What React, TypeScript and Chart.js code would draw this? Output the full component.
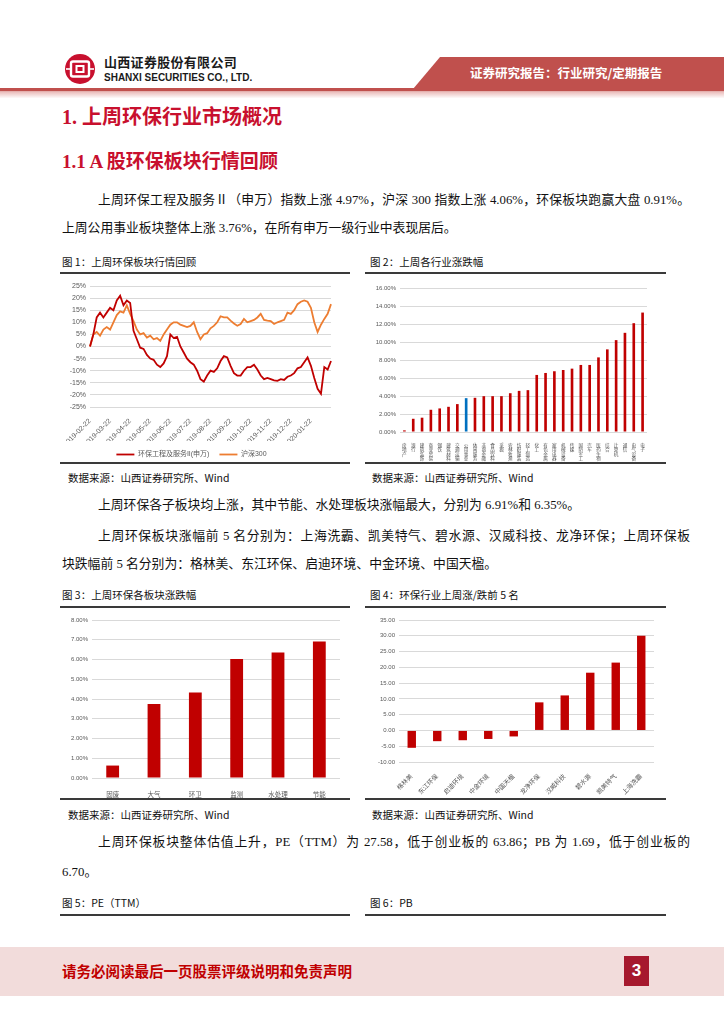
import React, { useEffect, useRef } from 'react';
import { Chart, registerables } from 'chart.js';

Chart.register(...registerables);
Chart.defaults.font.family = '"Liberation Sans", "Noto Sans CJK SC", sans-serif';

// ---------------- Figure 1: 上周环保板块行情回顾 ----------------
const fig1MonthTicks = [
  '2019-02-22', '2019-03-22', '2019-04-22', '2019-05-22', '2019-06-22', '2019-07-22',
  '2019-08-22', '2019-09-22', '2019-10-22', '2019-11-22', '2019-12-22', '2020-01-22',
];
const fig1PointsPerMonth = 6;
const fig1SeriesNames = ['环保工程及服务II(申万)', '沪深300'];
const fig1Env = [
  0, 5, 12, 14, 12, 14, 16, 15, 19, 21,
  17, 19, 18, 6.5, 3, -0.5, -1, -3.5, -5, -5.5,
  -7.5, -8.5, -7, -4, 5, 3.5, 4, 0, -2.5, -5,
  -6.5, -7.5, -10, -13.5, -14.5, -12, -10, -10.5, -9, -6,
  -4, -4.5, -8, -11, -12, -12, -10, -8.5, -8.5, -7.5,
  -9.5, -12, -13.5, -13, -13.5, -14, -14.2, -13.5, -13.8, -12.5,
  -12, -11, -9, -8.5, -6.5, -4.5, -8, -13, -17.5, -19.5,
  -8.5, -9.5, -6,
];
const fig1Hs300 = [
  0, 5, 6, 4.5, 7, 8, 7, 10, 13, 14.5,
  14, 17, 13.5, 10.5, 7, 5, 5.5, 3.7, 4.5, 3,
  3.5, 2.3, 5, 7, 9, 10, 10, 9, 8.5, 8,
  8.5, 10, 6, 3, 5, 5.5, 7.5, 8.5, 10, 12.5,
  12, 12, 10.7, 9.5, 8.6, 9.3, 11.4, 10, 10.5, 11,
  12, 13.5, 11, 10.7, 10.5, 9.3, 10, 10.5, 11, 14,
  13.5, 15, 17.5, 18.5, 19, 18.5, 16, 10, 6, 9,
  11.4, 13.5, 17.5,
];
const fig1YMin = -25;
const fig1YMax = 25;
const fig1YStep = 5;

// ---------------- Figure 2: 上周各行业涨跌幅 ----------------
const fig2Industries = [
  '房地产', '银行', '建筑装饰', '商业贸易', '钢铁', '建筑材料', '交通运输', '公用事业',
  '休闲服务', '非银金融', '食品饮料', '采掘', '农林牧渔', '纺织服装', '轻工制造', '化工',
  '有色金属', '家用电器', '机械设备', '传媒', '国防军工', '汽车', '医药生物', '综合',
  '计算机', '通信', '电气设备', '电子',
];
const fig2Changes = [
  0.18, 1.47, 1.59, 2.47, 2.62, 2.8, 3.1, 3.76,
  3.8, 3.98, 3.98, 3.98, 4.31, 4.57, 4.65, 6.34,
  6.56, 6.75, 6.89, 7.04, 7.45, 7.45, 8.29, 9.18,
  10.21, 11.02, 12.09, 13.27,
];
const fig2Highlight = '公用事业';

// ---------------- Figure 3: 上周环保各板块涨跌幅 ----------------
const fig3Sectors = ['固废', '大气', '环卫', '监测', '水处理', '节能'];
const fig3Changes = [0.63, 3.75, 4.33, 6.02, 6.35, 6.91];

// ---------------- Figure 4: 环保行业上周涨/跌前5名 ----------------
const fig4Stocks = ['格林美', '东江环保', '启迪环境', '中金环境', '中国天楹', '龙净环保', '汉威科技', '碧水源', '凯美特气', '上海洗霸'];
const fig4Changes = [-5.5, -3.4, -3.1, -2.7, -1.9, 8.9, 11.1, 18.3, 21.5, 30.0];

// ---------------- styles ----------------
const RED = '#C00000';
const ORANGE = '#ED7D31';
const BLUE = '#0070C0';
const GRID = '#D9D9D9';
const TICK = '#595959';
const serifCN = '"Liberation Serif", "Noto Sans CJK SC", serif';
const sansCN = '"Noto Sans CJK SC", "Liberation Sans", sans-serif';

function ChartCanvas(props: { left: number; top: number; width: number; height: number; make: () => any }) {
  const ref = useRef<HTMLCanvasElement>(null);
  useEffect(() => {
    const chart = new Chart(ref.current as HTMLCanvasElement, props.make());
    return () => chart.destroy();
  }, []);
  return (
    <canvas
      ref={ref}
      width={props.width}
      height={props.height}
      style={{ position: 'absolute', left: props.left, top: props.top, width: props.width, height: props.height }}
    />
  );
}

const fig1Labels: string[] = [];
fig1MonthTicks.forEach((m) => {
  fig1Labels.push(m);
  for (let i = 1; i < fig1PointsPerMonth; i++) fig1Labels.push('');
});
fig1Labels.push('');

const makeFig1 = () => ({
  type: 'line',
  data: {
    labels: fig1Labels,
    datasets: [
      { label: fig1SeriesNames[0], data: fig1Env, borderColor: RED, backgroundColor: RED, borderWidth: 1.8, pointRadius: 0, tension: 0 },
      { label: fig1SeriesNames[1], data: fig1Hs300, borderColor: ORANGE, backgroundColor: ORANGE, borderWidth: 1.8, pointRadius: 0, tension: 0 },
    ],
  },
  options: {
    responsive: false,
    animation: false,
    events: [],
    layout: { padding: { left: 0, right: 21, top: 10, bottom: 0 } },
    plugins: {
      tooltip: { enabled: false },
      legend: {
        position: 'bottom',
        labels: { usePointStyle: true, pointStyle: 'line', pointStyleWidth: 18, font: { size: 7 }, color: TICK, padding: 10 },
      },
    },
    scales: {
      x: {
        grid: { display: false },
        border: { display: false },
        ticks: { autoSkip: false, minRotation: 45, maxRotation: 45, font: { size: 7 }, color: TICK, padding: 2 },
        afterFit: (s: any) => { s.height = 34; },
      },
      y: {
        min: fig1YMin,
        max: fig1YMax,
        ticks: { stepSize: fig1YStep, callback: (v: any) => v + '%', font: { size: 7 }, color: TICK, padding: 4 },
        grid: { color: GRID, drawTicks: false },
        border: { display: false },
        afterFit: (s: any) => { s.width = 38; },
      },
    },
  },
});

const makeFig2 = () => ({
  type: 'bar',
  data: {
    labels: fig2Industries.map((s) => s.split('')),
    datasets: [
      {
        data: fig2Changes,
        backgroundColor: fig2Industries.map((n) => (n === fig2Highlight ? BLUE : RED)),
        barPercentage: 0.3,
        categoryPercentage: 1,
      },
    ],
  },
  options: {
    responsive: false,
    animation: false,
    events: [],
    layout: { padding: { left: 0, right: 18, top: 12, bottom: 0 } },
    plugins: { legend: { display: false }, tooltip: { enabled: false } },
    scales: {
      x: {
        grid: { display: false },
        border: { display: false },
        ticks: { autoSkip: false, minRotation: 0, maxRotation: 0, font: { size: 4.6, lineHeight: 1 }, color: TICK, padding: 3 },
        afterFit: (s: any) => { s.height = 30; },
      },
      y: {
        min: 0,
        max: 16,
        ticks: { stepSize: 2, callback: (v: any) => Number(v).toFixed(2) + '%', font: { size: 6 }, color: TICK, padding: 4 },
        grid: { color: GRID, drawTicks: false },
        border: { display: false },
        afterFit: (s: any) => { s.width = 35; },
      },
    },
  },
});

const makeFig3 = () => ({
  type: 'bar',
  data: {
    labels: fig3Sectors,
    datasets: [{ data: fig3Changes, backgroundColor: RED, barPercentage: 0.31, categoryPercentage: 1 }],
  },
  options: {
    responsive: false,
    animation: false,
    events: [],
    layout: { padding: { left: 0, right: 12, top: 8, bottom: 0 } },
    plugins: { legend: { display: false }, tooltip: { enabled: false } },
    scales: {
      x: {
        grid: { display: false },
        border: { display: false },
        ticks: { autoSkip: false, maxRotation: 0, font: { size: 6.5 }, color: TICK, padding: 5 },
        afterFit: (s: any) => { s.height = 20; },
      },
      y: {
        min: 0,
        max: 8,
        ticks: { stepSize: 1, callback: (v: any) => Number(v).toFixed(2) + '%', font: { size: 6 }, color: TICK, padding: 4 },
        grid: { color: GRID, drawTicks: false },
        border: { display: false },
        afterFit: (s: any) => { s.width = 32; },
      },
    },
  },
});

const makeFig4 = () => ({
  type: 'bar',
  data: {
    labels: fig4Stocks,
    datasets: [{ data: fig4Changes, backgroundColor: RED, barPercentage: 0.33, categoryPercentage: 1 }],
  },
  options: {
    responsive: false,
    animation: false,
    events: [],
    layout: { padding: { left: 0, right: 11, top: 8, bottom: 0 } },
    plugins: { legend: { display: false }, tooltip: { enabled: false } },
    scales: {
      x: {
        grid: { display: false },
        border: { display: false },
        ticks: { autoSkip: false, minRotation: 45, maxRotation: 45, font: { size: 6.3 }, color: TICK, padding: 3 },
        afterFit: (s: any) => { s.height = 36; },
      },
      y: {
        min: -10,
        max: 35,
        ticks: { stepSize: 5, callback: (v: any) => Number(v).toFixed(2), font: { size: 6 }, color: TICK, padding: 4 },
        grid: { color: GRID, drawTicks: false },
        border: { display: false },
        afterFit: (s: any) => { s.width = 34; },
      },
    },
  },
});

function T(p: {
  x: number; y: number; size: number; children: any; color?: string; weight?: number;
  family?: string; width?: number; justify?: boolean; spacing?: number;
}) {
  return (
    <div
      style={{
        position: 'absolute',
        left: p.x,
        top: p.y - p.size * 0.7,
        fontSize: p.size,
        lineHeight: `${p.size * 1.4}px`,
        color: p.color || '#111',
        fontWeight: p.weight || 400,
        fontFamily: p.family || serifCN,
        width: p.width,
        whiteSpace: p.justify ? 'normal' : 'nowrap',
        textAlign: p.justify ? 'justify' : 'left',
        textAlignLast: p.justify ? 'justify' : undefined,
        letterSpacing: p.spacing,
      } as any}
    >
      {p.children}
    </div>
  );
}

function Rule(p: { x1: number; x2: number; y: number }) {
  return <div style={{ position: 'absolute', left: p.x1, top: p.y - 0.75, width: p.x2 - p.x1, height: 1.5, background: '#3a3a3a' }} />;
}

const HEAD = '#C8102E';

export default function App() {
  useEffect(() => {
    document.body.style.margin = '0';
  }, []);
  const body = 12.8;
  const cap = 10.5;
  return (
    <div style={{ position: 'absolute', left: 0, top: 0, width: 724, height: 1024, background: '#fff', overflow: 'hidden' }}>
      {/* header */}
      <svg width={724} height={100} style={{ position: 'absolute', left: 0, top: 0 }}>
        <defs>
          <linearGradient id="hg" x1="0" y1="0" x2="0" y2="1">
            <stop offset="0" stopColor="#E9B9B7" />
            <stop offset="1" stopColor="#FFFFFF" />
          </linearGradient>
        </defs>
        <polygon points="440,57 724,57 724,89 413,89" fill="#C0504D" />
        <rect x={0} y={88} width={724} height={3.5} fill="#C0504D" />
        <rect x={0} y={91.5} width={724} height={7} fill="url(#hg)" />
        <circle cx={80} cy={69} r={15} fill="#C8102E" />
        <rect x={71} y={61.5} width={18} height={15} rx={2} fill="none" stroke="#fff" strokeWidth={2.4} />
        <rect x={76.5} y={66} width={7} height={6} fill="none" stroke="#fff" strokeWidth={2} />
        <rect x={66} y={68.2} width={5} height={1.6} fill="#fff" />
        <rect x={89} y={68.2} width={5} height={1.6} fill="#fff" />
      </svg>
      <T x={104} y={62} size={13} weight={700} family={sansCN} color="#1a1a1a" spacing={0.3}>山西证券股份有限公司</T>
      <T x={104} y={78} size={10} weight={700} family={'"Liberation Sans Narrow", "Liberation Sans", sans-serif'} color="#1a1a1a">SHANXI SECURITIES CO., LTD.</T>
      <T x={470} y={73} size={12.5} weight={700} family={sansCN} color="#fff">证券研究报告：行业研究/定期报告</T>

      {/* headings */}
      <T x={62} y={117} size={20} weight={700} color={HEAD}>1. 上周环保行业市场概况</T>
      <T x={62} y={162} size={19} weight={700} color={HEAD}>1.1 A 股环保板块行情回顾</T>

      {/* paragraph 1 */}
      <T x={98} y={201} size={body} width={592} justify>上周环保工程及服务Ⅱ（申万）指数上涨 4.97%，沪深 300 指数上涨 4.06%，环保板块跑赢大盘 0.91%。</T>
      <T x={62} y={229} size={body}>上周公用事业板块整体上涨 3.76%，在所有申万一级行业中表现居后。</T>

      {/* figure 1 / 2 */}
      <T x={62} y={262} size={cap} family={sansCN}>图 1：上周环保板块行情回顾</T>
      <T x={370} y={262} size={cap} family={sansCN}>图 2：上周各行业涨跌幅</T>
      <Rule x1={60} x2={350} y={273} />
      <Rule x1={365} x2={666} y={273} />
      <ChartCanvas left={52} top={276} width={300} height={192} make={makeFig1} />
      <ChartCanvas left={365} top={276} width={300} height={186} make={makeFig2} />
      <Rule x1={60} x2={350} y={463} />
      <Rule x1={365} x2={666} y={463} />
      <T x={68} y={478} size={cap} family={sansCN}>数据来源：山西证券研究所、Wind</T>
      <T x={372} y={478} size={cap} family={sansCN}>数据来源：山西证券研究所、Wind</T>

      {/* paragraphs 2,3 */}
      <T x={98} y={506} size={body}>上周环保各子板块均上涨，其中节能、水处理板块涨幅最大，分别为 6.91%和 6.35%。</T>
      <T x={98} y={537} size={body} width={592} justify>上周环保板块涨幅前 5 名分别为：上海洗霸、凯美特气、碧水源、汉威科技、龙净环保；上周环保板</T>
      <T x={62} y={565} size={body}>块跌幅前 5 名分别为：格林美、东江环保、启迪环境、中金环境、中国天楹。</T>

      {/* figure 3 / 4 */}
      <T x={62} y={595} size={cap} family={sansCN}>图 3：上周环保各板块涨跌幅</T>
      <T x={370} y={595} size={cap} family={sansCN}>图 4：环保行业上周涨/跌前 5 名</T>
      <Rule x1={60} x2={350} y={607} />
      <Rule x1={365} x2={666} y={607} />
      <ChartCanvas left={60} top={612} width={292} height={186} make={makeFig3} />
      <ChartCanvas left={365} top={612} width={300} height={186} make={makeFig4} />
      <Rule x1={60} x2={350} y={799} />
      <Rule x1={365} x2={666} y={799} />
      <T x={68} y={815} size={cap} family={sansCN}>数据来源：山西证券研究所、Wind</T>
      <T x={372} y={815} size={cap} family={sansCN}>数据来源：山西证券研究所、Wind</T>

      {/* paragraph 4 */}
      <T x={98} y={843} size={body} width={592} justify>上周环保板块整体估值上升，PE（TTM）为 27.58，低于创业板的 63.86；PB 为 1.69，低于创业板的</T>
      <T x={62} y={873} size={body}>6.70。</T>

      <T x={62} y={903} size={cap} family={sansCN}>图 5：PE（TTM）</T>
      <T x={370} y={903} size={cap} family={sansCN}>图 6：PB</T>
      <Rule x1={60} x2={350} y={915} />
      <Rule x1={365} x2={666} y={915} />

      {/* footer */}
      <div style={{ position: 'absolute', left: 0, top: 947, width: 724, height: 49, background: '#F2DCDB' }} />
      <T x={62} y={971} size={14.5} weight={700} family={sansCN} color={RED}>请务必阅读最后一页股票评级说明和免责声明</T>
      <div
        style={{
          position: 'absolute', left: 624, top: 956, width: 25, height: 30, background: '#A6192E',
          color: '#fff', fontSize: 17, fontWeight: 700, fontFamily: '"Liberation Sans", sans-serif',
          display: 'flex', alignItems: 'center', justifyContent: 'center',
        }}
      >
        3
      </div>
    </div>
  );
}
